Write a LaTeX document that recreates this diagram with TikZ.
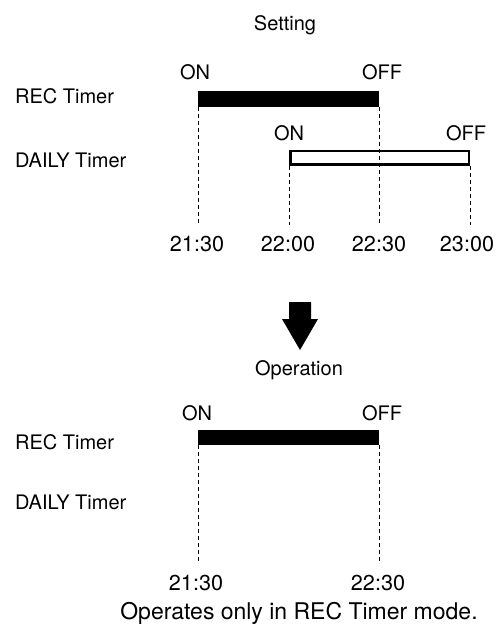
\documentclass[tikz,border=0pt]{standalone}
\usepackage{fontspec}
\setmainfont{TeX Gyre Heros}
\begin{document}
\begin{tikzpicture}[x=0.5pt,y=-0.5pt,
    lbl/.style={font=\fontsize{10}{12}\selectfont},
    tlbl/.style={font=\fontsize{10.8}{13}\selectfont},
    guide/.style={line width=0.5pt,dash pattern=on 2pt off 1.5pt}]
    \useasboundingbox (0,0) rectangle (497,624);
    % Setting
    \node [lbl] (set) at (285,25) {Setting};
    \node [lbl,anchor=west] (rec1) at (8,96) {REC Timer};
    \node [lbl,anchor=west] (day1) at (8,160) {DAILY Timer};
    \node [lbl] (on1) at (195,72) {ON};
    \node [lbl] (off1) at (382,72) {OFF};
    \node [lbl] (on2) at (289,133) {ON};
    \node [lbl] (off2) at (466,133) {OFF};
    \coordinate (ra) at (198,91);
    \coordinate (rb) at (379,107);
    \coordinate (da) at (290.25,151.25);
    \coordinate (db) at (468.75,164.75);
    \fill (ra) rectangle (rb);
    \draw [line width=1.25pt] (da) rectangle (db);
    \node [tlbl] (t1) at (197,244) {21:30};
    \node [tlbl] (t2) at (288,244) {22:00};
    \node [tlbl] (t3) at (379,244) {22:30};
    \node [tlbl] (t4) at (467,244) {23:00};
    \coordinate (e1) at (198,223);
    \coordinate (e2) at (289,225);
    \coordinate (e3) at (379,223);
    \coordinate (e4) at (470,225);
    \draw [guide] (ra |- rb) -- (e1);
    \draw [guide] (rb) -- (e3);
    \draw [guide] (289,166) -- (e2);
    \draw [guide] (470,166) -- (e4);
    % arrow
    \fill (289,302) -- (311,302) -- (311,319) -- (318,319) -- (300,350)
        -- (282,319) -- (289,319) -- cycle;
    % Operation
    \node [lbl] (op) at (299,370) {Operation};
    \node [lbl,anchor=west] (rec2) at (8,442) {REC Timer};
    \node [lbl,anchor=west] (day2) at (8,502) {DAILY Timer};
    \node [lbl] (on3) at (197,413) {ON};
    \node [lbl] (off3) at (382,413) {OFF};
    \coordinate (sa) at (198,430);
    \coordinate (sb) at (379,445);
    \fill (sa) rectangle (sb);
    \node [tlbl] (t5) at (196,583) {21:30};
    \node [tlbl] (t6) at (378,583) {22:30};
    \coordinate (e5) at (198,563);
    \coordinate (e6) at (379,563);
    \draw [guide] (sa |- sb) -- (e5);
    \draw [guide] (sb) -- (e6);
    \node [font=\fontsize{11.5}{14}\selectfont] (note) at (299,613) {Operates only in REC Timer mode.};
\end{tikzpicture}
\end{document}
